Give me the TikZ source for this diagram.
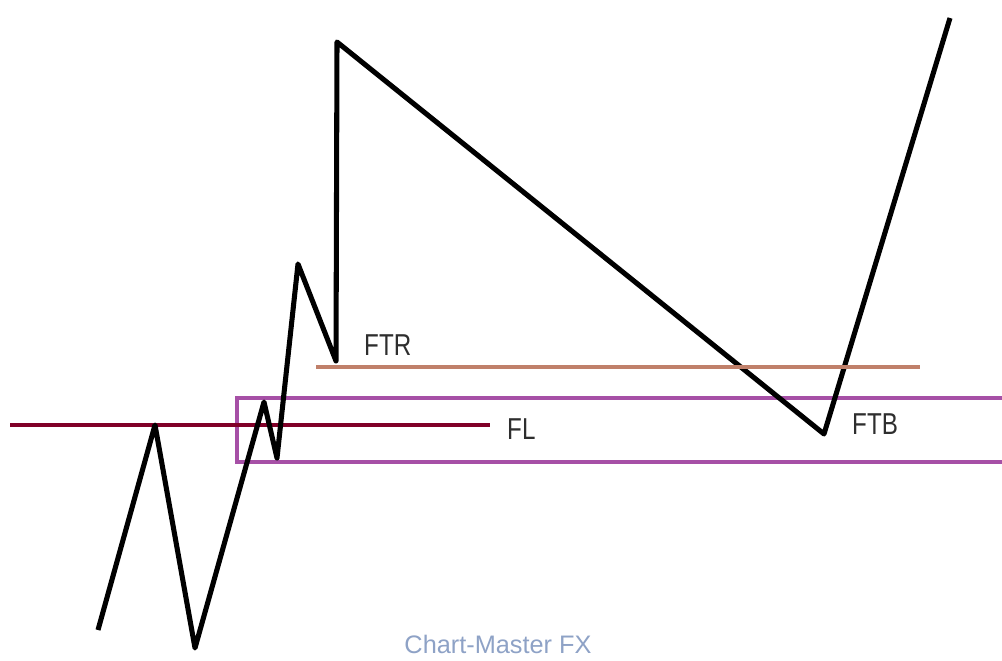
\documentclass[tikz,border=0pt]{standalone}
\usepackage{fontspec}
\setmainfont{Liberation Sans}
\usepackage{xcolor}
\usepackage{tikz}
\usetikzlibrary{positioning, arrows.meta, calc}
\definecolor{flred}{HTML}{800028}
\definecolor{ftrbrown}{HTML}{C0806A}
\definecolor{boxpurple}{HTML}{A650A6}
\definecolor{labelgray}{HTML}{2E2E2E}
\definecolor{markblue}{HTML}{8EA2C6}

\tikzset{
    price/.style={line width=3.6pt, line join=round, black},
    level/.style={line width=3.4pt},
    lbl/.style={font=\fontsize{21.5}{21.5}\selectfont, text=labelgray, xscale=0.8, inner sep=0pt}
}

\begin{document}
\begin{tikzpicture}[x=0.025cm, y=-0.025cm]
    \useasboundingbox (0,0) rectangle (1002,661);
    % swing points
    \coordinate (p0) at (98,630);
    \coordinate (p1) at (155,425);
    \coordinate (p2) at (195,648);
    \coordinate (p3) at (264,402);
    \coordinate (p4) at (277,458);
    \coordinate (p5) at (298,264);
    \coordinate (p6) at (336,361);
    \coordinate (p7) at (337,42);
    \coordinate (p8) at (824,434);
    \coordinate (p9) at (950,18);
    % zone and levels
    \draw[boxpurple, line width=3.2pt] (237,398) rectangle (1010,462);
    \coordinate (flA) at (10,425);
    \coordinate (flB) at (490,425);
    \draw[level, flred] (flA) -- (flB);
    \draw[price] (p0) -- (p1) -- (p2) -- (p3) -- (p4) -- (p5) -- (p6) -- (p7) -- (p8) -- (p9);
    \coordinate (ftrA) at (316,367);
    \coordinate (ftrB) at (920,367);
    \draw[level, ftrbrown] (ftrA) -- (ftrB);
    % labels
    \node[lbl, anchor=south west] (ftr) at (364,356) {FTR};
    \node[lbl, anchor=south west] (fl) at (507,440) {FL};
    \node[lbl, anchor=south west] (ftb) at (852,435) {FTB};
    \node[font=\fontsize{18}{18}\selectfont, text=markblue, anchor=south] (mark) at (498,659) {Chart-Master FX};
\end{tikzpicture}
\end{document}
